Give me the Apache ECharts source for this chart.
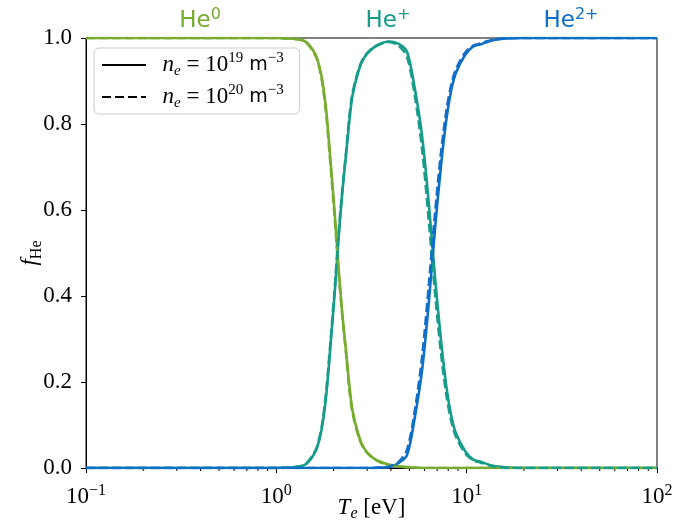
<!DOCTYPE html>
<html><head><meta charset="utf-8">
<script src="https://cdn.jsdelivr.net/npm/echarts@6/dist/echarts.min.js"></script>
<style>html,body{margin:0;padding:0;background:#fff}#c{width:677px;height:520px}</style>
</head><body><div id="c"></div>
<script>
// Electron temperature Te [eV] (sample positions)
const T = [0.1, 0.5, 1.0, 1.15, 1.34, 1.44, 1.54, 1.63, 1.73, 1.83, 1.93, 2.02, 2.12, 2.22, 2.32, 2.41, 2.51, 2.71, 2.90, 3.19, 3.49, 3.88, 4.37, 4.86, 5.35, 5.84, 6.34, 6.83, 7.32, 7.82, 8.31, 8.80, 9.79, 10.78, 11.77, 13.75, 16.7, 19.7, 29.6, 100];
// n_e = 1e19 m^-3 (solid)
const he0_19 = [1,1,1,0.999,0.996,0.99,0.975,0.955,0.91,0.83,0.71,0.6,0.47,0.36,0.275,0.2,0.135,0.075,0.045,0.025,0.015,0.008,0.004,0.002,0.001,0,0,0,0,0,0,0,0,0,0,0,0,0,0,0];
const hep_19 = [0,0,0,0.001,0.004,0.01,0.025,0.045,0.09,0.17,0.29,0.4,0.53,0.64,0.725,0.8,0.865,0.925,0.955,0.975,0.986,0.992,0.987,0.968,0.88,0.77,0.61,0.44,0.3,0.19,0.12,0.08,0.04,0.02,0.015,0.005,0.001,0,0,0];
const he2_19 = [0,0,0,0,0,0,0,0,0,0,0,0,0,0,0,0,0,0,0,0,0.001,0.002,0.011,0.03,0.12,0.23,0.39,0.56,0.7,0.81,0.88,0.92,0.96,0.98,0.985,0.995,0.999,1,1,1];
// n_e = 1e20 m^-3 (dashed)
const he0_20 = [1,1,1,0.999,0.996,0.989,0.973,0.952,0.905,0.82,0.7,0.59,0.46,0.355,0.27,0.19,0.13,0.072,0.043,0.024,0.014,0.007,0.004,0.002,0.001,0,0,0,0,0,0,0,0,0,0,0,0,0,0,0];
const hep_20 = [0,0,0,0.001,0.004,0.011,0.027,0.048,0.095,0.18,0.3,0.41,0.54,0.645,0.73,0.81,0.87,0.928,0.957,0.976,0.985,0.991,0.983,0.956,0.864,0.74,0.57,0.405,0.27,0.17,0.108,0.072,0.035,0.018,0.013,0.004,0,0,0,0];
const he2_20 = [0,0,0,0,0,0,0,0,0,0,0,0,0,0,0,0,0,0,0,0,0.001,0.003,0.013,0.042,0.135,0.26,0.43,0.595,0.73,0.83,0.892,0.928,0.965,0.982,0.987,0.996,1,1,1,1];
// axis ticks
const xMinor = [0.2,0.3,0.4,0.5,0.6,0.7,0.8,0.9,2,3,4,5,6,7,8,9,20,30,40,50,60,70,80,90];
const speciesLabels = [['He','0'],['He','+'],['He','2+']];

const C0 = '#77AC30', C1 = '#169C88', C2 = '#0F6FC6';
const serif = "'Liberation Serif', 'DejaVu Serif', serif";
const sans = "'DejaVu Sans', sans-serif";

const chart = echarts.init(document.getElementById('c'));
const mk = arr => T.map((t, i) => [t, arr[i]]);
const ls = (name, arr, color, dashed) => ({
  type: 'line', name, data: mk(arr), symbol: 'none', showSymbol: false,
  smooth: 0.3, silent: true, animation: false,
  lineStyle: { color, width: 2.6, type: dashed ? [9, 4] : 'solid', cap: 'butt' },
  itemStyle: { color }
});

const legendRich = {
  i: { fontFamily: serif, fontStyle: 'italic', fontSize: 23, lineHeight: 24, color: '#000' },
  sub: { fontFamily: serif, fontStyle: 'italic', fontSize: 15, lineHeight: 15, padding: [13, 0, 0, 0], color: '#000' },
  r: { fontFamily: serif, fontSize: 23, lineHeight: 24, color: '#000' },
  sup: { fontFamily: serif, fontSize: 15, lineHeight: 15, padding: [0, 0, 13, 0], color: '#000' },
  m: { fontFamily: sans, fontSize: 19, lineHeight: 24, color: '#000' }
};

const option = {
  backgroundColor: '#fff',
  animation: false,
  grid: { left: 86, right: 20, top: 38, bottom: 52, show: true, borderColor: '#000', borderWidth: 1, containLabel: false, outerBoundsMode: 'none' },
  xAxis: {
    type: 'log', logBase: 10, min: 0.1, max: 100,
    axisLine: { show: true, lineStyle: { color: '#000', width: 1 } },
    axisTick: { show: true, inside: false, length: 5, lineStyle: { color: '#000' } },
    splitLine: { show: false },
    axisLabel: {
      margin: 16, color: '#000',
      formatter: v => { const e = Math.round(Math.log10(v)); return '{b|10}{s|' + (e < 0 ? '−' + (-e) : e) + '}'; },
      rich: {
        b: { fontFamily: serif, fontSize: 23, lineHeight: 26, color: '#000' },
        s: { fontFamily: serif, fontSize: 16, lineHeight: 16, padding: [0, 0, 13, 0], color: '#000' }
      }
    },
    name: '{i|T}{sub|e}{r| [eV]}', nameLocation: 'middle', nameGap: 27, nameMoveOverlap: false,
    nameTextStyle: {
      rich: {
        i: { fontFamily: serif, fontStyle: 'italic', fontSize: 23, lineHeight: 26, color: '#000' },
        sub: { fontFamily: serif, fontStyle: 'italic', fontSize: 16, lineHeight: 16, padding: [12, 0, 0, 0], color: '#000' },
        r: { fontFamily: serif, fontSize: 23, lineHeight: 26, color: '#000' }
      }
    }
  },
  yAxis: {
    type: 'value', min: 0, max: 1, interval: 0.2,
    axisLine: { show: true, lineStyle: { color: '#000', width: 1 } },
    axisTick: { show: true, inside: false, length: 5, lineStyle: { color: '#000' } },
    splitLine: { show: false },
    axisLabel: { margin: 14, color: '#000', fontFamily: serif, fontSize: 23, formatter: v => v.toFixed(1) },
    name: '{i|f}{sub|He}', nameLocation: 'middle', nameGap: 43, nameRotate: 90, nameMoveOverlap: false,
    nameTextStyle: {
      rich: {
        i: { fontFamily: serif, fontStyle: 'italic', fontSize: 23, lineHeight: 26, color: '#000' },
        sub: { fontFamily: serif, fontSize: 16, lineHeight: 16, padding: [14, 0, 0, 0], color: '#000' }
      }
    }
  },
  legend: {
    data: ['n19', 'n20'], orient: 'vertical', left: 94, top: 48,
    itemWidth: 44, itemHeight: 14, itemGap: 4,
    padding: [3, 16, 3, 7],
    itemStyle: { opacity: 0 },
    backgroundColor: 'rgba(255,255,255,0.8)', borderColor: '#cccccc', borderWidth: 1, borderRadius: 5,
    selectedMode: false,
    formatter: n => n === 'n19'
      ? '{r|  }{i|n}{sub|e}{r| = 10}{sup|19}{m| m}{sup|−3}'
      : '{r|  }{i|n}{sub|e}{r| = 10}{sup|20}{m| m}{sup|−3}',
    textStyle: { rich: legendRich }
  },
  graphic: speciesLabels.map((s, k) => ({
    type: 'text', x: [200, 388, 571][k], y: 21, silent: true,
    style: {
      text: '{a|' + s[0] + '}{b|' + s[1] + '}', align: 'center', verticalAlign: 'middle',
      rich: {
        a: { fontFamily: sans, fontSize: 23, lineHeight: 26, fill: [C0, C1, C2][k] },
        b: { fontFamily: sans, fontSize: 16, lineHeight: 16, padding: [0, 0, 12, 0], fill: [C0, C1, C2][k] }
      }
    }
  })),
  series: [
    ls('He0_19', he0_19, C0, false),
    ls('He+_19', hep_19, C1, false),
    ls('He2+_19', he2_19, C2, false),
    ls('He0_20', he0_20, C0, true),
    ls('He+_20', hep_20, C1, true),
    ls('He2+_20', he2_20, C2, true),
    { type: 'line', name: 'n19', data: [], symbol: 'none', lineStyle: { color: '#000', width: 2.6 }, itemStyle: { color: 'rgba(0,0,0,0)' } },
    { type: 'line', name: 'n20', data: [], symbol: 'none', lineStyle: { color: '#000', width: 2.6, type: [9, 4] }, itemStyle: { color: 'rgba(0,0,0,0)' } },
    {
      type: 'custom', name: 'minor', data: xMinor.map(v => [v, 0]), clip: false, silent: true,
      encode: { x: 0, y: 1 },
      renderItem: (params, api) => {
        const p = api.coord([api.value(0), 0]);
        return { type: 'line', shape: { x1: p[0], y1: p[1], x2: p[0], y2: p[1] + 3 }, style: { stroke: '#000', lineWidth: 1 } };
      }
    }
  ]
};
chart.setOption(option);
</script></body></html>
